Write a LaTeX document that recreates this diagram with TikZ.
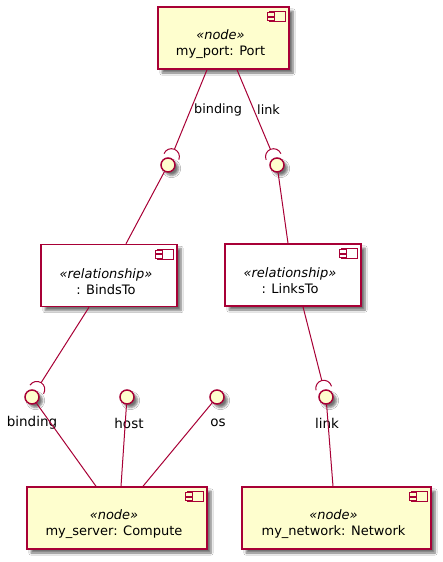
\documentclass[tikz,border=0pt]{standalone}
\usepackage{fontspec}
\setmainfont{DejaVu Sans}
\usetikzlibrary{calc,shadows.blur}
\definecolor{umlfill}{HTML}{FEFECE}
\definecolor{umlline}{HTML}{A80036}
\newcommand{\umltext}[2]{\textit{«#1»}\\#2}
\newcommand{\compicon}[2]{%
  \draw[draw=umlline,line width=1pt,fill=#2] ([xshift=-20pt,yshift=-5.3pt]#1.north east) rectangle ++(15.4pt,-10pt);
  \draw[draw=umlline,line width=1pt,fill=#2] ([xshift=-22.3pt,yshift=-6.7pt]#1.north east) rectangle ++(6.7pt,-3.3pt);
  \draw[draw=umlline,line width=1pt,fill=#2] ([xshift=-22.3pt,yshift=-11pt]#1.north east) rectangle ++(6.7pt,-3.3pt);}
\newcommand{\socket}[2]{%
  \draw[wire] let \p1=($(#2)-(#1)$), \n1={atan2(\y1,\x1)} in
    ($(#1)!9pt!(#2)$) ++(\n1-90:8pt) arc[start angle=\n1-90,end angle=\n1+90,radius=8pt];}

\begin{document}
\begin{tikzpicture}[x=1pt,y=1pt]
  \tikzset{comp/.style={draw=umlline,line width=1.5pt,minimum height=62pt,inner sep=0pt,
             blur shadow={shadow xshift=4pt,shadow yshift=-4pt,shadow blur steps=6,shadow opacity=55}},
           iface/.style={circle,draw=umlline,fill=umlfill,line width=1.5pt,minimum size=14pt,inner sep=0pt,
             blur shadow={shadow xshift=3.5pt,shadow yshift=-3.5pt,shadow blur steps=4,shadow opacity=55}},
           txt/.style={font=\fontsize{13}{16}\selectfont,align=center,inner sep=0pt},
           lbl/.style={font=\fontsize{13.5}{16}\selectfont,inner sep=0pt},
           elbl/.style={font=\fontsize{12.8}{15}\selectfont,inner sep=3pt},
           wire/.style={draw=umlline,line width=1pt}}
  \fill[white] (0,0) rectangle (443,-562);
  \useasboundingbox (0,0) rectangle (443,-562);
  % components
  \node[comp,fill=umlfill,minimum width=131pt] (Port) at (223.5,-38) {};
  \node[comp,fill=white,minimum width=136pt] (BindsTo) at (109,-275.5) {};
  \node[comp,fill=white,minimum width=136pt] (LinksTo) at (293,-275) {};
  \node[comp,fill=umlfill,minimum width=180pt] (Compute) at (117,-518) {};
  \node[comp,fill=umlfill,minimum width=189pt] (Network) at (336.5,-518) {};
  \node[txt] (Port-t) at ([xshift=-3pt,yshift=-6pt]Port.center) {\umltext{node}{my\_port: Port}};
  \node[txt] (BindsTo-t) at ([xshift=-3pt,yshift=-6pt]BindsTo.center) {\umltext{relationship}{: BindsTo}};
  \node[txt] (LinksTo-t) at ([xshift=-3pt,yshift=-6pt]LinksTo.center) {\umltext{relationship}{: LinksTo}};
  \node[txt] (Compute-t) at ([xshift=-3pt,yshift=-6pt]Compute.center) {\umltext{node}{my\_server: Compute}};
  \node[txt] (Network-t) at ([xshift=-3pt,yshift=-6pt]Network.center) {\umltext{node}{my\_network: Network}};
  \compicon{Port}{umlfill}
  \compicon{BindsTo}{white}
  \compicon{LinksTo}{white}
  \compicon{Compute}{umlfill}
  \compicon{Network}{umlfill}
  % interfaces
  \node[iface] (bindP) at (168,-165) {};
  \node[iface] (linkP) at (277,-165) {};
  \node[iface] (bindC) at (32,-397) {};
  \node[iface] (hostC) at (127,-397) {};
  \node[iface] (osC) at (217,-397) {};
  \node[iface] (linkN) at (326,-397) {};
  \node[lbl] (bindC-l) at ([yshift=-26pt]bindC) {binding};
  \node[lbl] (hostC-l) at ([xshift=2pt,yshift=-26pt]hostC) {host};
  \node[lbl] (osC-l) at ([xshift=1pt,yshift=-26pt]osC) {os};
  \node[lbl] (linkN-l) at ([xshift=1pt,yshift=-26pt]linkN) {link};
  % wires
  \draw[wire] ([xshift=-16.5pt]Port.south) -- node[elbl,right] (bindP-e) {binding} ($(bindP)!17pt!([xshift=-16.5pt]Port.south)$);
  \socket{bindP}{[xshift=-16.5pt]Port.south}
  \draw[wire] ([xshift=13.5pt]Port.south) -- node[elbl,right] (linkP-e) {link} ($(linkP)!17pt!([xshift=13.5pt]Port.south)$);
  \socket{linkP}{[xshift=13.5pt]Port.south}
  \draw[wire] ([xshift=17pt]BindsTo.north) -- (bindP);
  \draw[wire] ([xshift=-5pt]LinksTo.north) -- (linkP);
  \draw[wire] ([xshift=-20pt]BindsTo.south) -- ($(bindC)!17pt!([xshift=-20pt]BindsTo.south)$);
  \socket{bindC}{[xshift=-20pt]BindsTo.south}
  \draw[wire] ([xshift=10pt]LinksTo.south) -- ($(linkN)!17pt!([xshift=10pt]LinksTo.south)$);
  \socket{linkN}{[xshift=10pt]LinksTo.south}
  \draw[wire] (bindC) -- ([xshift=-21pt]Compute.north);
  \draw[wire] (hostC) -- ([xshift=4pt]Compute.north);
  \draw[wire] (osC) -- ([xshift=26pt]Compute.north);
  \draw[wire] (linkN) -- ([xshift=-3.5pt]Network.north);
\end{tikzpicture}
\end{document}
